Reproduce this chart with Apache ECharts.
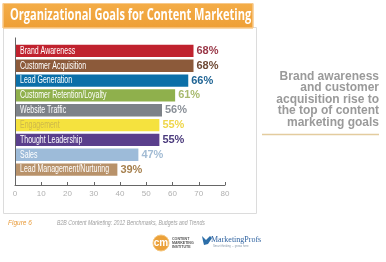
<!DOCTYPE html>
<html>
<head>
<meta charset="utf-8">
<script src="https://cdn.jsdelivr.net/npm/echarts@6/dist/echarts.min.js"></script>
<style>
html,body{margin:0;padding:0;background:#fff;}
#c{width:386px;height:262px;}
</style>
</head>
<body>
<div id="c"></div>
<script>
const categories = ['Brand Awareness','Customer Acquisition','Lead Generation','Customer Retention/Loyalty','Website Traffic','Engagement','Thought Leadership','Sales','Lead Management/Nurturing'];
const values = [68,68,66,61,56,55,55,47,39];
const barColors = ['#c0222e','#8c5a3a','#0b6fa8','#8fb04c','#7d8288','#f5e23e','#5a3f8c','#9dbbd9','#b8926a'];
const valueColors = ['#9a3848','#6f4a35','#1f6494','#a8ba6e','#8a9098','#efd64a','#4a3a7c','#a3bcd4','#a6804e'];
const nameColors = ['#ffffff','#ffffff','#ffffff','#ffffff','#ffffff','#cdb84a','#ffffff','#ffffff','#ffffff'];
const xMin = 0, xMax = 80, xStep = 10;
const titleText = 'Organizational Goals for Content Marketing';
const sideText = 'Brand awareness\nand customer\nacquisition rise to\nthe top of content\nmarketing goals';
const footLeft = 'Figure 6';
const footSource = 'B2B Content Marketing: 2012 Benchmarks, Budgets and Trends';

const G = {left: 15, top: 43.5, width: 210, height: 133.5};
const chart = echarts.init(document.getElementById('c'), null, {renderer: 'canvas'});

const staticGraphics = [
  {type: 'rect', z: -10, shape: {x: 3.5, y: 27.5, width: 253, height: 186}, style: {fill: '#ffffff', stroke: '#dcdcdc', lineWidth: 1}},
  {type: 'rect', z: -5, shape: {x: 3, y: 3.5, width: 250, height: 24.5}, style: {
    fill: new echarts.graphic.LinearGradient(0, 0, 0, 1, [{offset: 0, color: '#f4ad48'}, {offset: 1, color: '#ee9f36'}]),
    stroke: '#f8c98a', lineWidth: 1}},
  {type: 'text', x: 10, y: 7, scaleX: 0.69, z: 5, style: {text: titleText, fill: '#ffffff', font: 'bold 16px "Open Sans","Liberation Sans",sans-serif', textVerticalAlign: 'top'}},
  {type: 'line', z: 5, shape: {x1: G.left + 0.5, y1: G.top - 6, x2: G.left + 0.5, y2: G.top + G.height + 8}, style: {stroke: '#666', lineWidth: 1}},
  {type: 'text', x: 379, y: 70.5, z: 5, style: {text: sideText, fill: '#9a9a9a', font: 'bold 12px "Liberation Sans",Arial,sans-serif', textAlign: 'right', lineHeight: 11.6, textVerticalAlign: 'top'}},
  {type: 'line', z: 5, shape: {x1: 262, y1: 134.5, x2: 379, y2: 134.5}, style: {stroke: '#e3cc9e', lineWidth: 1.5}},
  {type: 'text', x: 8, y: 220, z: 5, style: {text: footLeft, fill: '#e89c3c', font: 'italic 6.5px "Liberation Sans",sans-serif', textVerticalAlign: 'top'}},
  {type: 'text', x: 57, y: 220, scaleX: 0.8, z: 5, style: {text: footSource, fill: '#a0a0a0', font: 'italic 6.5px "Liberation Sans",sans-serif', textVerticalAlign: 'top'}},
  {type: 'circle', z: 5, shape: {cx: 161, cy: 243, r: 8}, style: {fill: '#eba13a', stroke: '#f6c77f', lineWidth: 1}},
  {type: 'text', x: 161, y: 243, z: 6, style: {text: 'cm', fill: '#ffffff', font: 'bold 10px "Liberation Sans",sans-serif', textAlign: 'center', textVerticalAlign: 'middle'}},
  {type: 'text', x: 172, y: 236.5, z: 5, style: {text: 'CONTENT\nMARKETING\nINSTITUTE', fill: '#555', font: 'bold 3.6px "Liberation Sans",sans-serif', lineHeight: 4, textVerticalAlign: 'top'}},
  {type: 'polygon', z: 5, shape: {points: [[202,236],[206,240],[210,236],[212,238],[208,244],[204,245],[203,241]]}, style: {fill: '#2c6ea8'}},
  {type: 'text', x: 211, y: 235.5, z: 5, style: {text: 'MarketingProfs', fill: '#2e62a0', font: '8px "Liberation Serif",serif', textVerticalAlign: 'top'}},
  {type: 'text', x: 213, y: 245, z: 5, style: {text: 'Smart thinking ... grows here', fill: '#8899aa', font: '2.8px "Liberation Sans",sans-serif', textVerticalAlign: 'top'}}
];

chart.setOption({
  backgroundColor: '#ffffff',
  animation: false,
  grid: {left: G.left, top: G.top, width: G.width, height: G.height, containLabel: false},
  xAxis: {
    type: 'value', min: xMin, max: xMax, interval: xStep,
    offset: 8,
    axisLine: {show: true, lineStyle: {color: '#666', width: 1}},
    axisTick: {show: true, inside: true, length: 3, lineStyle: {color: '#666'}},
    axisLabel: {color: '#b0b0b0', fontSize: 8, margin: 5, fontFamily: '"Liberation Sans",sans-serif'},
    splitLine: {show: false}
  },
  yAxis: {
    type: 'category', inverse: true,
    data: categories,
    axisLine: {show: false}, axisTick: {show: false}, axisLabel: {show: false}
  },
  series: [{
    type: 'bar',
    barCategoryGap: '17%',
    data: values.map((v, i) => ({
      value: v,
      itemStyle: {color: barColors[i]},
      label: {color: valueColors[i]}
    })),
    label: {
      show: true, position: 'right', distance: 3,
      formatter: '{c}%', fontSize: 11, fontWeight: 'bold',
      fontFamily: '"Liberation Sans",sans-serif'
    }
  }],
  graphic: staticGraphics
});

// Category names drawn inside bars, positioned by the library's axes (condensed via scaleX)
const x0 = chart.convertToPixel({xAxisIndex: 0}, xMin);
const nameGraphics = categories.map((c, i) => ({
  type: 'text', z: 20,
  x: x0 + 5,
  y: chart.convertToPixel({yAxisIndex: 0}, c),
  scaleX: 0.7,
  style: {text: c, fill: nameColors[i], font: '10px "Liberation Sans",sans-serif', textVerticalAlign: 'middle'}
}));
chart.setOption({graphic: staticGraphics.concat(nameGraphics)});
</script>
</body>
</html>
